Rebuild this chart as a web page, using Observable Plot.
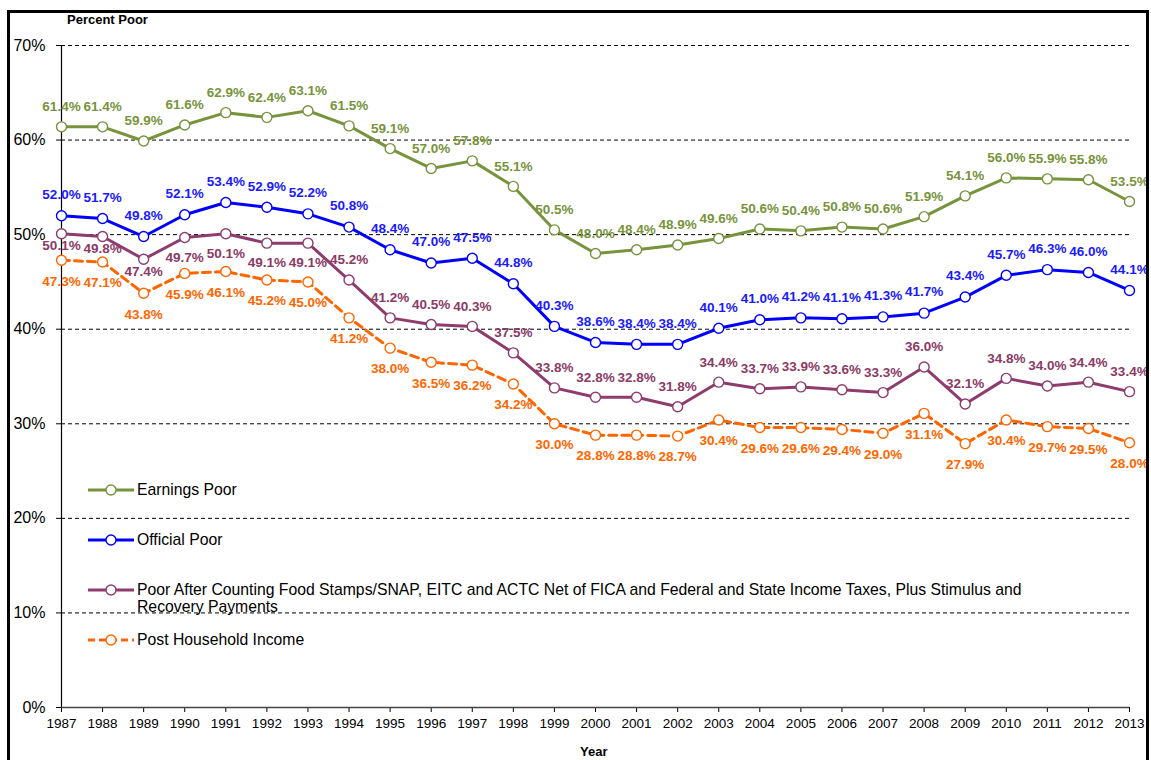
<!DOCTYPE html>
<html><head><meta charset="utf-8">
<script src="https://cdn.jsdelivr.net/npm/d3@7"></script>
<script src="https://cdn.jsdelivr.net/npm/@observablehq/plot@0.6"></script>
<style>
body{margin:0;background:#fff;font-family:"Liberation Sans",Arial,sans-serif;}
#wrap{position:relative;width:1151px;height:760px;overflow:hidden;background:#fff;}
#chart{position:absolute;left:0;top:0;}
#frame{position:absolute;left:7px;top:10px;width:1142px;height:800px;border:3px solid #000;box-sizing:border-box;pointer-events:none;}
.ttl{position:absolute;font-weight:bold;font-size:13px;color:#000;white-space:nowrap;}
.leg{position:absolute;left:88px;font-size:15.75px;line-height:17px;color:#000;white-space:nowrap;}
.leg svg{position:absolute;left:0;top:0;}
.leg span{position:absolute;left:49px;top:0;}
</style>
</head><body>
<div id="wrap">
  <div id="chart"></div>
  <div class="ttl" style="left:67px;top:12px;">Percent Poor</div>
  <div class="ttl" style="left:580px;top:744px;">Year</div>
  <div id="legend"></div>
  <div id="frame"></div>
</div>
<script>
const years = [1987,1988,1989,1990,1991,1992,1993,1994,1995,1996,1997,1998,1999,2000,2001,2002,2003,2004,2005,2006,2007,2008,2009,2010,2011,2012,2013];
const earningsPoor = [61.4,61.4,59.9,61.6,62.9,62.4,63.1,61.5,59.1,57.0,57.8,55.1,50.5,48.0,48.4,48.9,49.6,50.6,50.4,50.8,50.6,51.9,54.1,56.0,55.9,55.8,53.5];
const officialPoor = [52.0,51.7,49.8,52.1,53.4,52.9,52.2,50.8,48.4,47.0,47.5,44.8,40.3,38.6,38.4,38.4,40.1,41.0,41.2,41.1,41.3,41.7,43.4,45.7,46.3,46.0,44.1];
const afterTaxPoor = [50.1,49.8,47.4,49.7,50.1,49.1,49.1,45.2,41.2,40.5,40.3,37.5,33.8,32.8,32.8,31.8,34.4,33.7,33.9,33.6,33.3,36.0,32.1,34.8,34.0,34.4,33.4];
const postHouseholdIncome = [47.3,47.1,43.8,45.9,46.1,45.2,45.0,41.2,38.0,36.5,36.2,34.2,30.0,28.8,28.8,28.7,30.4,29.6,29.6,29.4,29.0,31.1,27.9,30.4,29.7,29.5,28.0];
const seriesNames = ["Earnings Poor","Official Poor","Poor After Counting Food Stamps/SNAP, EITC and ACTC Net of FICA and Federal and State Income Taxes, Plus Stimulus and\nRecovery Payments","Post Household Income"];
const yTicks = [0,10,20,30,40,50,60,70];

const seriesValues = [earningsPoor, officialPoor, afterTaxPoor, postHouseholdIncome];
const lineColors = ["#77933C","#0000FF","#8E3B6E","#FF6600"];
const labelColors = ["#77933C","#1A1AFF","#8B3A66","#FF6600"];
const dashes = [null,null,null,"8,5"];

const series = seriesValues.map((vals,i)=>years.map((y,j)=>({year:y,value:vals[j],s:i})));

const marks = [
  Plot.ruleY(yTicks.filter(d=>d>0), {stroke:"#000", strokeWidth:1, strokeDasharray:"4,3"}),
  Plot.axisY({ticks:yTicks, tickFormat:d=>d+"%", tickSize:5, tickPadding:11, fontSize:16, label:null}),
  Plot.axisX({ticks:years, tickFormat:d=>String(d), tickSize:5, tickPadding:6, fontSize:13.5, label:null}),
  Plot.ruleX([years[0]], {y1:0, y2:70, stroke:"#000", strokeWidth:1.2}),
  Plot.ruleY([0], {stroke:"#444", strokeWidth:1.5})
];
series.forEach((d,i)=>{
  marks.push(Plot.line(d,{x:"year",y:"value",stroke:lineColors[i],strokeWidth:3,strokeDasharray:dashes[i]||undefined}));
  marks.push(Plot.dot(d,{x:"year",y:"value",r:5,fill:"white",stroke:lineColors[i],strokeWidth:1.4}));
});
const fmt = d=>d.value.toFixed(1)+"%";
const tOpts = (i,dy,extra={})=>({x:"year",y:"value",text:fmt,fill:labelColors[i],fontWeight:"bold",fontSize:13.5,dy,...extra});
marks.push(Plot.text(series[0], tOpts(0,-20)));
marks.push(Plot.text(series[1], tOpts(1,-21)));
marks.push(Plot.text(series[2].filter(d=>d.year<=1989), tOpts(2,12)));
marks.push(Plot.text(series[2].filter(d=>d.year>1989 && d.year<=1993), tOpts(2,20)));
marks.push(Plot.text(series[2].filter(d=>d.year>1993), tOpts(2,-20)));
marks.push(Plot.text(series[3], tOpts(3,21)));

const chart = Plot.plot({
  width:1151, height:760,
  marginLeft:61, marginRight:22, marginTop:45, marginBottom:53,
  style:{fontFamily:"'Liberation Sans', Arial, sans-serif", color:"#000", background:"transparent"},
  x:{type:"linear", domain:[1987,2013]},
  y:{domain:[0,70]},
  marks
});
document.getElementById("chart").appendChild(chart);

const legendTops = [490,540,590,640];
const leg = document.getElementById("legend");
seriesNames.forEach((name,i)=>{
  const div = document.createElement("div");
  div.className="leg";
  div.style.top = (legendTops[i]-9)+"px";
  const dash = dashes[i] ? ` stroke-dasharray="7,4"` : "";
  div.innerHTML = `<svg width="48" height="18"><line x1="0" x2="46" y1="9" y2="9" stroke="${lineColors[i]}" stroke-width="3"${dash}/><circle cx="23" cy="9" r="5" fill="white" stroke="${lineColors[i]}" stroke-width="1.4"/></svg><span></span>`;
  const sp = div.querySelector("span");
  name.split("\n").forEach((ln,k)=>{ if(k) sp.appendChild(document.createElement("br")); sp.appendChild(document.createTextNode(ln)); });
  leg.appendChild(div);
});
</script>
</body></html>
